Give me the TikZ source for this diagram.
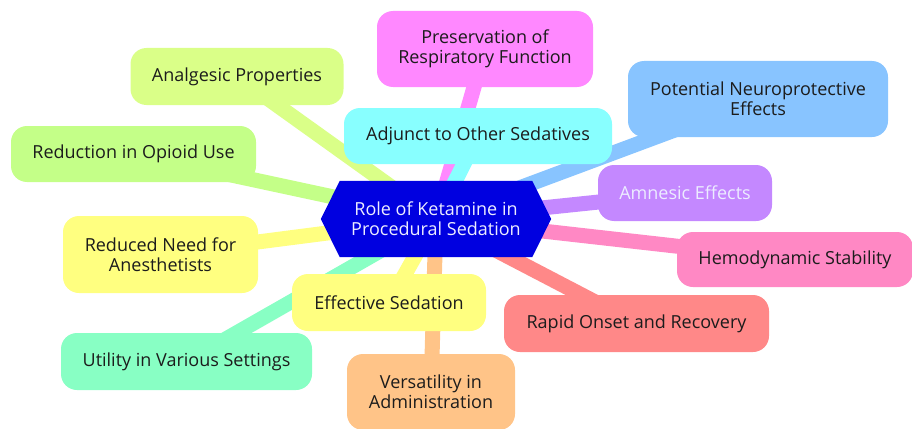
\documentclass[tikz,border=0pt]{standalone}
\usepackage{fontspec}
\setmainfont{Open Sans}
\usetikzlibrary{backgrounds}
\definecolor{hubblue}{HTML}{0000E0}
\definecolor{hubtext}{HTML}{ECECFF}
\definecolor{textdark}{HTML}{1C1C1C}
\definecolor{colanalg}{HTML}{DAFF88}
\definecolor{colopioid}{HTML}{C4FF88}
\definecolor{colresp}{HTML}{FF88FF}
\definecolor{coladjunct}{HTML}{88FFFF}
\definecolor{colneuro}{HTML}{88C4FF}
\definecolor{colamnes}{HTML}{C488FF}
\definecolor{colhemo}{HTML}{FF88C4}
\definecolor{colrapid}{HTML}{FF8888}
\definecolor{colversa}{HTML}{FFC488}
\definecolor{colyellow}{HTML}{FFFF80}
\definecolor{colutility}{HTML}{88FFC4}
\begin{document}
\begin{tikzpicture}[x=1pt, y=-1pt,
  topic/.style={rounded corners=16pt, align=center, inner sep=0pt, text=textdark, font=\fontsize{18}{20}\selectfont},
  link/.style={line width=15pt}]
\useasboundingbox (0,0) rectangle (912,428);
% centre
\node[align=center, inner sep=0pt, minimum width=192pt, minimum height=76pt, text=hubtext, font=\fontsize{18}{20}\selectfont] (hub) at (436,219) {Role of Ketamine in\\Procedural Sedation};
% topics
\node[topic, fill=colanalg, minimum width=213pt, minimum height=57pt] (analg) at (237,76.5) {Analgesic Properties};
\node[topic, fill=colopioid, minimum width=245pt, minimum height=56pt] (opioid) at (133.5,154) {Reduction in Opioid Use};
\node[topic, fill=colresp, minimum width=216pt, minimum height=76pt] (resp) at (485,49) {Preservation of\\Respiratory Function};
\node[topic, fill=coladjunct, minimum width=268pt, minimum height=56pt] (adjunct) at (478,136) {Adjunct to Other Sedatives};
\node[topic, fill=colneuro, minimum width=260pt, minimum height=76pt] (neuro) at (758,99) {Potential Neuroprotective\\Effects};
\node[topic, fill=colamnes, text=hubtext, minimum width=174pt, minimum height=56pt] (amnes) at (685,193) {Amnesic Effects};
\node[topic, fill=colhemo, minimum width=236pt, minimum height=55pt] (hemo) at (795,259.5) {Hemodynamic Stability};
\node[topic, fill=colrapid, minimum width=265pt, minimum height=57pt] (rapid) at (636.5,323.5) {Rapid Onset and Recovery};
\node[topic, fill=colversa, minimum width=168pt, minimum height=76pt] (versa) at (431,392) {Versatility in\\Administration};
\node[topic, fill=colyellow, minimum width=194pt, minimum height=57pt] (effect) at (389,302.5) {Effective Sedation};
\node[topic, fill=colutility, minimum width=251pt, minimum height=57pt] (utility) at (186.5,361.5) {Utility in Various Settings};
\node[topic, fill=colyellow, minimum width=195pt, minimum height=77pt] (anesth) at (160.5,254.5) {Reduced Need for\\Anesthetists};
% branches
\begin{scope}[on background layer]
\draw[link, colanalg] (hub.center) -- (analg.center);
\draw[link, colopioid] (hub.center) -- (opioid.center);
\draw[link, colresp] (hub.center) -- (resp.center);
\draw[link, coladjunct] (hub.center) -- (adjunct.center);
\draw[link, colneuro] (hub.center) -- (neuro.center);
\draw[link, colamnes] (hub.center) -- (amnes.center);
\draw[link, colhemo] (hub.center) -- (hemo.center);
\draw[link, colrapid] (hub.center) -- (rapid.center);
\draw[link, colversa] (hub.center) -- (versa.center);
\draw[link, colyellow] (hub.center) -- (effect.center);
\draw[link, colutility] (hub.center) -- (utility.center);
\draw[link, colyellow] (hub.center) -- (anesth.center);
\fill[hubblue] (hub.north west) -- (hub.north east) -- ([xshift=19pt]hub.east) -- (hub.south east) -- (hub.south west) -- ([xshift=-19pt]hub.west) -- cycle;
\end{scope}
\end{tikzpicture}
\end{document}
